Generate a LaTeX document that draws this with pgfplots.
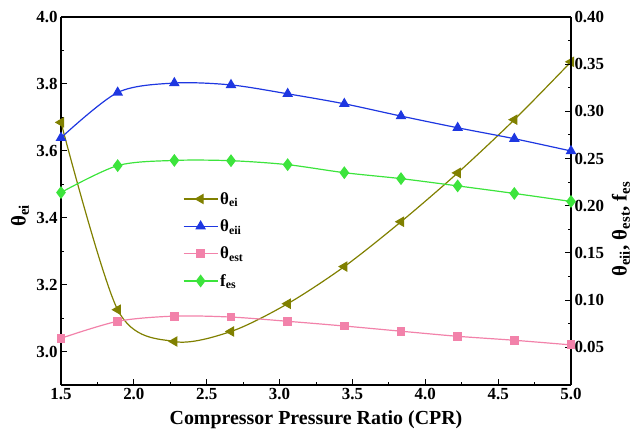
\documentclass[border=0pt]{standalone}
\usepackage{pgfplots}
\pgfplotsset{compat=1.18}
\usepackage{fontspec}
\setmainfont{Liberation Serif}
\definecolor{colei}{RGB}{128,128,0}
\definecolor{coleii}{RGB}{30,55,225}
\definecolor{colest}{RGB}{242,130,170}
\definecolor{colfes}{RGB}{60,228,60}
\pgfplotsset{
  common/.style={
    scale only axis, width=510bp, height=368bp,
    xmin=1.5, xmax=5.0,
    tick align=inside,
    major tick length=6bp, minor tick length=3.5bp,
    every tick/.style={black, line width=0.9bp},
    axis line style={line width=1.1bp},
    tick label style={font=\fontsize{17}{19}\selectfont\bfseries},
  },
  eistyle/.style={colei, line width=1.2bp, smooth, mark=triangle*, mark size=5bp, mark options={rotate=90, fill=colei, draw=colei, solid}},
  eiistyle/.style={coleii, line width=1.2bp, smooth, mark=triangle*, mark size=5bp, mark options={fill=coleii, draw=coleii, solid}},
  eststyle/.style={colest, line width=1.2bp, smooth, mark=square*, mark size=3.8bp, mark options={fill=colest, draw=colest, solid}},
  fesstyle/.style={colfes, line width=1.2bp, smooth, mark=diamond*, mark size=5.5bp, mark options={fill=colfes, draw=colfes, solid}},
}
\begin{document}
\begin{tikzpicture}[font=\bfseries]
\useasboundingbox (-61bp,-56bp) rectangle (579bp,385bp);
\begin{axis}[common,
  axis y line*=left,
  xtick pos=bottom,
  ymin=2.9, ymax=4.0,
  xtick={1.5,2.0,2.5,3.0,3.5,4.0,4.5,5.0}, minor x tick num=1,
  ytick={3.0,3.2,3.4,3.6,3.8,4.0}, minor y tick num=1,
  xticklabel={\bfseries\pgfmathprintnumber[fixed,fixed zerofill,precision=1,assume math mode=true]{\tick}},
  yticklabel={\bfseries\pgfmathprintnumber[fixed,fixed zerofill,precision=1,assume math mode=true]{\tick}},
  xlabel={Compressor Pressure Ratio (CPR)},
  xlabel style={font=\fontsize{20}{22}\selectfont\bfseries, at={(rel axis cs:0.5,0)}, anchor=north, yshift=-22bp},
  ylabel={θ\textsubscript{ei}},
  ylabel style={font=\fontsize{21}{23}\selectfont\bfseries, at={(rel axis cs:0,0.46)}, anchor=center, yshift=41bp},
]
\addplot[eistyle] coordinates {
(1.5000,3.685) (1.8889,3.125) (2.2778,3.030) (2.6667,3.060) (3.0556,3.143)
(3.4444,3.254) (3.8333,3.388) (4.2222,3.534) (4.6111,3.693) (5.0000,3.866)
};
\end{axis}
\begin{axis}[common,
  axis y line*=right, axis x line=none,
  ymin=0.01, ymax=0.40,
  ytick={0.05,0.10,0.15,0.20,0.25,0.30,0.35,0.40}, minor y tick num=1,
  yticklabel={\bfseries\pgfmathprintnumber[fixed,fixed zerofill,precision=2,assume math mode=true]{\tick}},
  ylabel={θ\textsubscript{eii}, θ\textsubscript{est}, f\textsubscript{es}},
  ylabel style={font=\fontsize{21}{23}\selectfont\bfseries, at={(rel axis cs:1,0.424)}, anchor=center, yshift=-50bp},
  legend style={draw=none, fill=none, at={(rel axis cs:0.233,0.535)}, anchor=north west,
    font=\fontsize{17}{19}\selectfont\bfseries, row sep=10bp,
    /tikz/every even column/.append style={column sep=2bp}},
  legend cell align=left,
  legend image code/.code={\draw[mark repeat=2,mark phase=2] plot coordinates {(0bp,0bp)(17bp,0bp)(34bp,0bp)};},
]
\addlegendimage{eistyle, smooth=false}
\addlegendentry{θ\textsubscript{ei}}
\addplot[eiistyle] coordinates {
(1.5000,0.272) (1.8889,0.320) (2.2778,0.330) (2.6667,0.328) (3.0556,0.3186)
(3.4444,0.308) (3.8333,0.295) (4.2222,0.2826) (4.6111,0.271) (5.0000,0.258)
};
\addlegendentry{θ\textsubscript{eii}}
\addplot[eststyle] coordinates {
(1.5000,0.0595) (1.8889,0.0775) (2.2778,0.083) (2.6667,0.082) (3.0556,0.0775)
(3.4444,0.0725) (3.8333,0.067) (4.2222,0.0616) (4.6111,0.0574) (5.0000,0.0525)
};
\addlegendentry{θ\textsubscript{est}}
\addplot[fesstyle] coordinates {
(1.5000,0.214) (1.8889,0.2425) (2.2778,0.248) (2.6667,0.2477) (3.0556,0.2435)
(3.4444,0.235) (3.8333,0.2287) (4.2222,0.221) (4.6111,0.213) (5.0000,0.2045)
};
\addlegendentry{f\textsubscript{es}}
\end{axis}
\end{tikzpicture}
\end{document}
